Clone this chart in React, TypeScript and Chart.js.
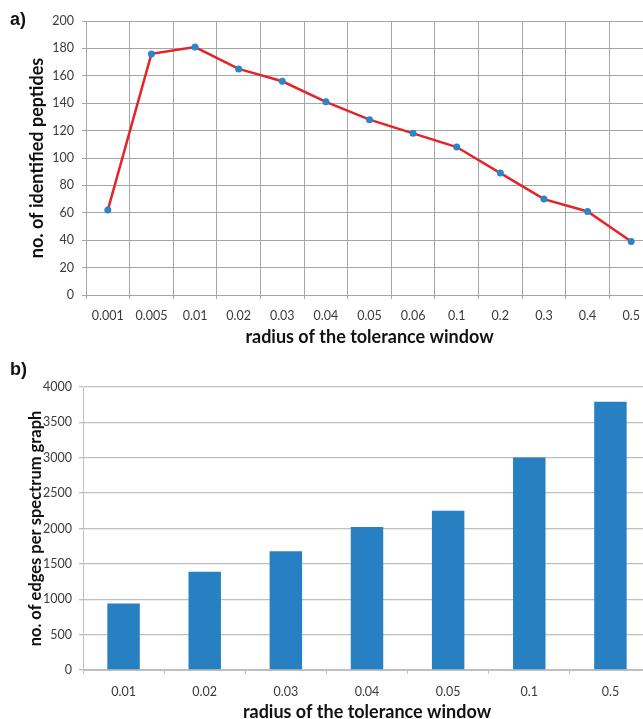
import React, { useEffect, useRef } from "react";
import Chart from "chart.js/auto";

const radiiA = ["0.001", "0.005", "0.01", "0.02", "0.03", "0.04", "0.05", "0.06", "0.1", "0.2", "0.3", "0.4", "0.5"];
const peptides = [62, 176, 181, 165, 156, 141, 128, 118, 108, 89, 70, 61, 39];

const radiiB = ["0.01", "0.02", "0.03", "0.04", "0.05", "0.1", "0.5"];
const edges = [940, 1390, 1680, 2020, 2250, 3005, 3790];

const xTitle = "radius of the tolerance window";
const yTitleA = "no. of identified peptides";
const yTitleB = "no. of edges per spectrum graph";

const TICK_FONT = { family: "Lato", size: 12.5 };
const TITLE_FONT = { family: "Lato", size: 18, weight: "bold" as const };
const TITLE_FONT_B_Y = { family: "Lato", size: 16.5, weight: "bold" as const };
const TICK_COLOR = "#3a3a3a";
const TITLE_COLOR = "#111111";

const plainTick = (v: any) => String(v);

export default function App() {
  const refA = useRef<HTMLCanvasElement>(null);
  const refB = useRef<HTMLCanvasElement>(null);

  useEffect(() => {
    document.body.style.margin = "0";
    const gridA = "#a6a6a6";
    const chartA = new Chart(refA.current!, {
      type: "line",
      data: {
        labels: radiiA,
        datasets: [
          {
            data: peptides,
            borderColor: "#e3242b",
            borderWidth: 2.5,
            pointRadius: 3.5,
            pointHoverRadius: 3.5,
            pointBackgroundColor: "#2b86c9",
            pointBorderWidth: 0,
            tension: 0,
          },
        ],
      },
      options: {
        responsive: false,
        animation: false,
        layout: { padding: { top: 21, right: 9, left: 0, bottom: 0 } },
        plugins: { legend: { display: false }, tooltip: { enabled: false } },
        scales: {
          x: {
            offset: true,
            grid: { offset: true, color: gridA, tickLength: 4, lineWidth: 1 },
            border: { color: gridA },
            ticks: { font: TICK_FONT, color: TICK_COLOR, padding: 9, maxRotation: 0, autoSkip: false },
            title: { display: true, text: xTitle, font: TITLE_FONT, color: TITLE_COLOR, padding: { top: 0, bottom: 2 } },
            afterFit: (s: any) => {
              s.height = 55;
            },
          },
          y: {
            min: 0,
            max: 200,
            ticks: { stepSize: 20, font: TICK_FONT, color: TICK_COLOR, padding: 8, callback: plainTick },
            grid: { color: gridA, tickLength: 4 },
            border: { color: gridA },
            title: { display: true, text: yTitleA, font: TITLE_FONT, color: TITLE_COLOR, padding: { top: 26, bottom: 0 } },
            afterFit: (s: any) => {
              s.width = 86;
            },
          },
        },
      },
    });

    const gridB = "#bfbfbf";
    const chartB = new Chart(refB.current!, {
      type: "bar",
      data: {
        labels: radiiB,
        datasets: [
          {
            data: edges,
            backgroundColor: "#2680c2",
            borderWidth: 0,
            categoryPercentage: 1,
            barPercentage: 0.4,
          },
        ],
      },
      options: {
        responsive: false,
        animation: false,
        layout: { padding: { top: 37, right: 11, left: 0, bottom: 0 } },
        plugins: { legend: { display: false }, tooltip: { enabled: false } },
        scales: {
          x: {
            offset: true,
            grid: { offset: true, drawOnChartArea: false, color: gridB, tickLength: 4 },
            border: { color: gridB },
            ticks: { font: TICK_FONT, color: TICK_COLOR, padding: 10, maxRotation: 0, autoSkip: false },
            title: { display: true, text: xTitle, font: TITLE_FONT, color: TITLE_COLOR, padding: { top: 0, bottom: 0.5 } },
            afterFit: (s: any) => {
              s.height = 53;
            },
          },
          y: {
            min: 0,
            max: 4000,
            ticks: { stepSize: 500, font: TICK_FONT, color: TICK_COLOR, padding: 7, callback: plainTick },
            grid: { color: gridB, tickLength: 4, lineWidth: 1.3 },
            border: { color: gridB },
            title: { display: true, text: yTitleB, font: TITLE_FONT_B_Y, color: TITLE_COLOR, padding: { top: 26, bottom: 0 } },
            afterFit: (s: any) => {
              s.width = 83;
            },
          },
        },
      },
    });

    return () => {
      chartA.destroy();
      chartB.destroy();
    };
  }, []);

  const panelLabel: React.CSSProperties = {
    position: "absolute",
    left: 10,
    fontFamily: '"Liberation Sans", Arial, sans-serif',
    fontWeight: "bold",
    fontSize: 18,
    lineHeight: "18px",
    color: "#111",
  };

  return (
    <div style={{ position: "relative", width: 643, height: 719, overflow: "hidden", background: "#fff" }}>
      <canvas ref={refA} width={662} height={350} style={{ position: "absolute", left: 0, top: 0 }} />
      <canvas ref={refB} width={662} height={373} style={{ position: "absolute", left: 0, top: 350 }} />
      <div style={{ ...panelLabel, top: 10 }}>a)</div>
      <div style={{ ...panelLabel, top: 360 }}>b)</div>
    </div>
  );
}
